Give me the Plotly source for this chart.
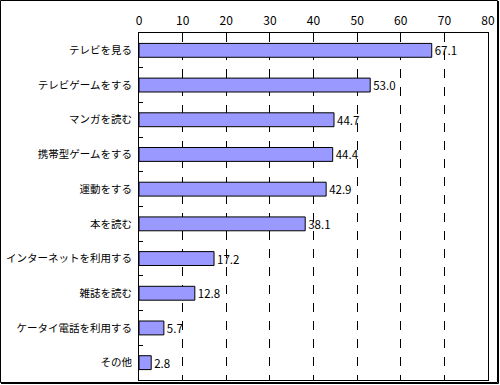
import plotly.graph_objects as go

categories = ["テレビを見る", "テレビゲームをする", "マンガを読む", "携帯型ゲームをする", "運動をする",
              "本を読む", "インターネットを利用する", "雑誌を読む", "ケータイ電話を利用する", "その他"]
values = [67.1, 53.0, 44.7, 44.4, 42.9, 38.1, 17.2, 12.8, 5.7, 2.8]
labels = [f"{v:.1f}" for v in values]

W, H = 500, 385
ML, MR, MT, MB = 139, 12, 33, 5
PW, PH = W - ML - MR, H - MT - MB

font = "MS PGothic, Noto Sans CJK JP, sans-serif"


def px(x):
    return (x - ML) / PW


def py(y):
    return (H - MB - y) / PH


fig = go.Figure(go.Bar(
    x=values, y=categories, orientation="h",
    marker=dict(color="#9999FF", line=dict(color="black", width=1)),
    text=labels, textposition="outside", cliponaxis=False, constraintext="none",
    textfont=dict(size=11.5, color="black", family=font),
))

fig.update_layout(
    width=W, height=H,
    margin=dict(l=ML, r=MR, t=MT, b=MB, autoexpand=False),
    paper_bgcolor="white", plot_bgcolor="white",
    bargap=0.6, showlegend=False,
    font=dict(family=font, size=12, color="black"),
    xaxis=dict(range=[0, 80], dtick=10, side="top", showgrid=True, automargin=False,
               gridcolor="black", griddash="dash", gridwidth=1,
               zeroline=False, showline=True, linecolor="black", mirror=True,
               ticks="", tickfont=dict(size=12), ticklabelstandoff=2),
    yaxis=dict(autorange="reversed", showline=True, linecolor="black", mirror=True,
               automargin=False,
               ticks="inside", ticklen=4, tickcolor="black", tickson="boundaries",
               showgrid=False, tickfont=dict(size=10.5), ticklabelstandoff=4),
    shapes=[
        dict(type="rect", xref="paper", yref="paper",
             x0=px(0.5), x1=px(497.5), y0=py(382.5), y1=py(0.5),
             line=dict(color="black", width=1)),
        dict(type="line", xref="paper", yref="paper",
             x0=px(498.5), x1=px(498.5), y0=py(383.5), y1=py(1),
             line=dict(color="black", width=1)),
        dict(type="line", xref="paper", yref="paper",
             x0=px(1), x1=px(498.5), y0=py(383.5), y1=py(383.5),
             line=dict(color="black", width=1)),
    ],
)

fig.write_html(
    "out.html",
    config={"displayModeBar": False},
    post_script="document.body.style.margin='0';document.body.style.overflow='hidden';",
)
